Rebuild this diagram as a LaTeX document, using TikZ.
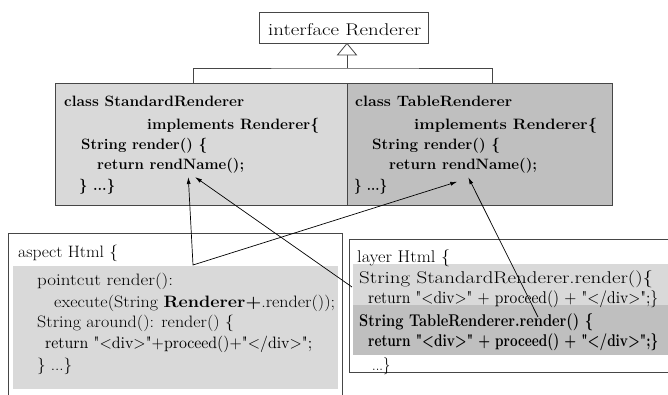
\documentclass[tikz,border=0pt]{standalone}
\usepackage{graphicx}
\usepackage{fontspec}
\newfontfamily\lmq{lmroman10-regular.otf}[BoldFont=lmroman10-bold.otf]
\usetikzlibrary{arrows.meta}
\definecolor{lg}{RGB}{217,217,217}
\definecolor{dg}{RGB}{191,191,191}
\definecolor{edge}{RGB}{70,70,70}
\newcommand{\fw}[2]{\resizebox{#1pt}{\height}{#2}}
\newcommand{\fI}{\fontsize{17}{20}\selectfont}
\newcommand{\fU}{\fontsize{15}{18}\selectfont\bfseries}
\newcommand{\fA}{\fontsize{16.5}{20}\selectfont}
\newcommand{\fL}{\fontsize{17}{20}\selectfont}
\begin{document}
\begin{tikzpicture}[x=1pt,y=-1pt,
  box/.style={draw=edge, line width=0.8pt, inner sep=0pt, anchor=north west},
  txt/.style={inner sep=0pt, anchor=base west},
  conn/.style={draw=edge, line width=0.8pt},
  arr/.style={draw=black, line width=0.7pt},
  tipA/.tip={Latex[length=7pt,width=4pt]}]
\useasboundingbox (0,0) rectangle (668,394);

% interface
\node[box, fill=white, minimum width=169pt, minimum height=31pt] (iface) at (259,12) {};
\node[txt] (ifacet) at (268,35) {\fI\fw{153}{interface Renderer}};

% class boxes
\node[box, fill=lg, minimum width=292pt, minimum height=122pt] (std) at (55,83) {};
\node[box, fill=dg, minimum width=265pt, minimum height=122pt] (tbl) at (347,83) {};

% generalization
\coordinate (tip) at (347,43.5);
\coordinate (tribase) at (347,55);
\coordinate (junc) at (347,68);
\coordinate (stdtop) at (193,83);
\coordinate (tbltop) at (492,83);
\draw[conn] (stdtop) |- (junc) -| (tbltop);
\draw[conn] (junc) -- (tribase);
\draw[conn, fill=white, line join=miter] (tip) -- ++(-9.5,11.5) -- ++(19,0) -- cycle;

% StandardRenderer text
\node[txt] (s1) at (64,106) {\fU\fw{180}{class StandardRenderer}};
\node[txt] (s2) at (147,129) {\fU\fw{172}{implements Renderer\{}};
\node[txt] (s3) at (81,149) {\fU\fw{126}{String render() \{}};
\node[txt] (s4) at (97,169) {\fU\fw{147}{return rendName();}};
\node[txt] (s5) at (79,190) {\fU\fw{36}{\} ...\}}};

% TableRenderer text
\node[txt] (t1) at (355,106) {\fU\fw{157}{class TableRenderer}};
\node[txt] (t2) at (414,129) {\fU\fw{183}{implements Renderer\{}};
\node[txt] (t3) at (372,149) {\fU\fw{128}{String render() \{}};
\node[txt] (t4) at (389,169) {\fU\fw{148}{return rendName();}};
\node[txt] (t5) at (354,190) {\fU\fw{33}{\} ...\}}};

% aspect box
\draw[conn] (8,396) -- (8,233) -- (342,233) -- (342,396);
\fill[lg] (13,266) rectangle (338,389);
\node[txt] (a1) at (18,257) {\fA\fw{100}{aspect Html \{}};
\node[txt] (a2) at (37,285) {\fA\fw{136}{pointcut render():}};
\node[txt] (a3) at (54,307) {\fA\fw{281}{execute(String \textbf{Renderer+}.render());}};
\node[txt] (a4) at (37,327) {\fA\fw{197}{String around(): render() \{}};
\node[txt] (a5) at (45,348) {\lmq\fA\fw{267}{return "<div>"+proceed()+"</div>";}};
\node[txt] (a6) at (37,370) {\fA\fw{35}{\} ...\}}};

% layer box
\node[box, fill=white, minimum width=320pt, minimum height=133pt] (layer) at (349,239) {};
\fill[lg] (353,264) rectangle (668,305);
\fill[dg] (353,305) rectangle (668,355);
\node[txt] (l1) at (357,262) {\fL\fw{93}{layer Html \{}};
\node[txt] (l2) at (359,283) {\fL\fw{294}{String StandardRenderer.render()\{}};
\node[txt] (l3) at (368,303) {\lmq\fL\fw{290}{return "<div>" + proceed() + "</div>";\}}};
\node[txt] (l4) at (359,326) {\fL\bfseries\fw{234}{String TableRenderer.render() \{}};
\node[txt] (l5) at (368,346) {\lmq\fL\bfseries\fw{290}{return "<div>" + proceed() + "</div>";\}}};
\node[txt] (l6) at (372,370) {\fL\fw{18}{...\}}};

% arrows
\coordinate (vx) at (193,265);
\coordinate (hs1) at (188.3,177);
\coordinate (hs2) at (195,177);
\coordinate (ht1) at (457.3,181.7);
\coordinate (ht2) at (468.3,177.3);
\coordinate (ls) at (352,287);
\coordinate (lt) at (538,317);
\draw[arr, tipA-tipA, line join=miter] (hs1) -- (vx) -- (ht1);
\draw[arr, -tipA] (ls) -- (hs2);
\draw[arr, -tipA] (lt) -- (ht2);
\end{tikzpicture}
\end{document}
